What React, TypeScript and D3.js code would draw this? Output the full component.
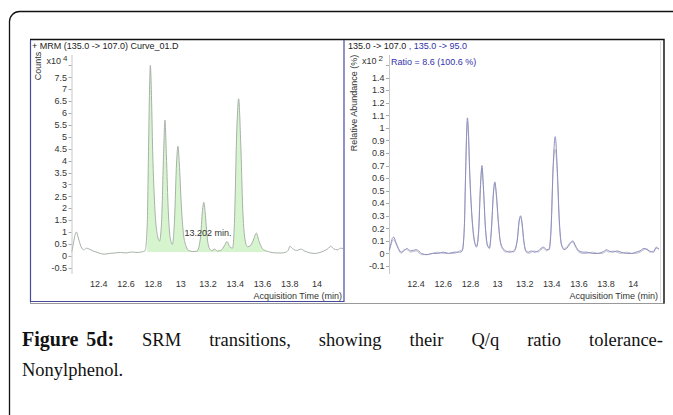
import React, { useEffect, useRef } from "react";
import * as d3 from "d3";

// retention time samples (min)
const times = [
  12.2, 12.21, 12.225, 12.235, 12.25, 12.27, 12.29, 12.31, 12.33, 12.36, 12.4, 12.44, 12.48,
  12.52, 12.56, 12.6, 12.64, 12.68, 12.72, 12.74, 12.755, 12.765, 12.772, 12.778, 12.785,
  12.795, 12.81, 12.83, 12.845, 12.86, 12.875, 12.885, 12.895, 12.91, 12.925, 12.94, 12.955,
  12.97, 12.98, 12.99, 13.005, 13.02, 13.04, 13.06, 13.09, 13.12, 13.145, 13.16, 13.17, 13.18,
  13.195, 13.21, 13.23, 13.25, 13.27, 13.3, 13.32, 13.34, 13.36, 13.38, 13.395, 13.41, 13.425,
  13.44, 13.455, 13.47, 13.49, 13.51, 13.53, 13.555, 13.575, 13.6, 13.63, 13.66, 13.7, 13.74,
  13.77, 13.79, 13.8, 13.82, 13.85, 13.88, 13.91, 13.95, 13.99, 14.02, 14.05, 14.08, 14.1,
  14.12, 14.15, 14.17, 14.19,
];

// MRM 135 -> 107 counts (x10^4)
const counts = [
  0.15, 0.4, 0.85, 1.0, 0.75, 0.38, 0.25, 0.32, 0.28, 0.2, 0.12, 0.07, 0.1,
  0.12, 0.14, 0.12, 0.16, 0.14, 0.17, 0.22, 1.3, 4.6, 7.0, 8.0, 7.0,
  4.4, 2.1, 0.85, 0.62, 1.4, 4.3, 5.7, 4.3, 1.8, 0.7, 0.48, 1.5,
  3.9, 4.6, 3.9, 2.1, 0.95, 0.4, 0.22, 0.18, 0.2, 0.75, 1.9, 2.25, 1.8,
  0.75, 0.32, 0.22, 0.28, 0.2, 0.25, 0.42, 0.6, 0.38, 0.32, 1.5, 5.0, 6.6,
  4.8, 2.0, 0.75, 0.38, 0.42, 0.62, 0.95, 0.6, 0.3, 0.2, 0.15, 0.12, 0.12,
  0.15, 0.25, 0.4, 0.3, 0.22, 0.28, 0.2, 0.12, 0.1, 0.14, 0.2, 0.3, 0.4,
  0.3, 0.25, 0.32, 0.3,
];

// relative abundance (x10^2), quantifier 135 -> 107
const quant = [
  0.02, 0.06, 0.12, 0.13, 0.09, 0.04, 0.01, 0.02, 0.04, 0.02, 0.03, 0.0, -0.01,
  0.0, 0.0, 0.01, 0.0, 0.01, 0.01, 0.02, 0.2, 0.65, 0.96, 1.08, 0.98,
  0.65, 0.32, 0.1, 0.05, 0.16, 0.55, 0.7, 0.55, 0.22, 0.07, 0.04, 0.19,
  0.49, 0.57, 0.49, 0.27, 0.1, 0.04, 0.02, 0.01, 0.02, 0.1, 0.26, 0.3, 0.25,
  0.09, 0.02, 0.01, 0.02, 0.01, 0.02, 0.04, 0.05, 0.03, 0.03, 0.2, 0.7, 0.93,
  0.68, 0.27, 0.08, 0.03, 0.04, 0.07, 0.1, 0.06, 0.02, 0.01, 0.01, 0.0, 0.0,
  0.01, 0.02, 0.03, 0.02, 0.01, 0.02, 0.01, 0.0, 0.0, 0.01, 0.02, 0.04, 0.03,
  0.02, 0.01, 0.05, 0.03,
];

// relative abundance (x10^2), qualifier 135 -> 95
const qual = [
  0.01, 0.05, 0.1, 0.11, 0.08, 0.03, 0.0, 0.03, 0.03, 0.01, 0.02, -0.01, -0.01,
  0.0, 0.01, 0.0, 0.0, 0.0, 0.02, 0.03, 0.21, 0.66, 0.93, 1.05, 0.95,
  0.62, 0.3, 0.09, 0.06, 0.18, 0.56, 0.68, 0.53, 0.21, 0.06, 0.05, 0.2,
  0.48, 0.56, 0.47, 0.25, 0.09, 0.03, 0.01, 0.02, 0.01, 0.11, 0.27, 0.29, 0.23,
  0.08, 0.01, 0.0, 0.01, 0.02, 0.01, 0.03, 0.04, 0.02, 0.04, 0.22, 0.68, 0.83,
  0.64, 0.25, 0.07, 0.04, 0.05, 0.08, 0.09, 0.05, 0.01, 0.0, 0.0, 0.01, 0.0,
  0.0, 0.01, 0.02, 0.01, 0.02, 0.01, 0.0, 0.01, 0.0, 0.0, 0.01, 0.03, 0.04,
  0.01, 0.02, 0.04, 0.04,
];

const countTicks = [-0.5, 0, 0.5, 1, 1.5, 2, 2.5, 3, 3.5, 4, 4.5, 5, 5.5, 6, 6.5, 7, 7.5];
const abundTicks = [-0.1, 0, 0.1, 0.2, 0.3, 0.4, 0.5, 0.6, 0.7, 0.8, 0.9, 1, 1.1, 1.2, 1.3, 1.4];
const timeTicks = [12.4, 12.6, 12.8, 13, 13.2, 13.4, 13.6, 13.8, 14];

const captionLine1 = ["SRM", "transitions,", "showing", "their", "Q/q", "ratio", "tolerance-"];
const captionLine2 = "Nonylphenol.";

const SANS = "'Liberation Sans', Arial, sans-serif";
const SERIF = "'Liberation Serif', 'Times New Roman', serif";
const FS = 9;

function App() {
  const ref = useRef<SVGSVGElement | null>(null);

  useEffect(() => {
    const svg = d3.select(ref.current);
    svg.selectAll("*").remove();

    // outer rounded frame
    svg.append("rect").attr("x", 9.5).attr("y", 11.5).attr("width", 720).attr("height", 500)
      .attr("rx", 10).attr("fill", "none").attr("stroke", "#111").attr("stroke-width", 1.3);

    // chart image box
    svg.append("rect").attr("x", 30.5).attr("y", 39.5).attr("width", 633.5).attr("height", 264)
      .attr("fill", "#fff").attr("stroke", "#999").attr("stroke-width", 1);
    svg.append("path").attr("d", "M30,39.5H664V303.5").attr("fill", "none").attr("stroke", "#111").attr("stroke-width", 1.3);
    svg.append("line").attr("x1", 660.5).attr("x2", 660.5).attr("y1", 40).attr("y2", 302)
      .attr("stroke", "#ddd");
    svg.append("path").attr("d", "M30.5,40V301.5H344V40").attr("fill", "none").attr("stroke", "#4a4a9c").attr("stroke-width", 1.2);

    const panel = (opts: {
      x0: number; x1: number; yDomain: [number, number]; ticks: number[]; topTick: number;
      id: string;
    }) => {
      const x = d3.scaleLinear().domain([12.2, 14.19]).range([opts.x0, opts.x1]);
      const y = d3.scaleLinear().domain(opts.yDomain).range([274, 55]);
      const g = svg.append("g");
      g.append("clipPath").attr("id", opts.id).append("rect")
        .attr("x", opts.x0).attr("y", 55).attr("width", opts.x1 - opts.x0).attr("height", 219);
      // y axis
      g.append("line").attr("x1", opts.x0 + 0.5).attr("x2", opts.x0 + 0.5).attr("y1", 55).attr("y2", 274)
        .attr("stroke", "#c8c8c8");
      const allTicks = opts.ticks.concat([opts.topTick]);
      g.selectAll("line.tk").data(allTicks).enter().append("line").attr("class", "tk")
        .attr("x1", opts.x0 - 3).attr("x2", opts.x0)
        .attr("y1", (d) => Math.round(y(d)) + 0.5).attr("y2", (d) => Math.round(y(d)) + 0.5)
        .attr("stroke", "#aaa");
      g.selectAll("text.yl").data(opts.ticks).enter().append("text").attr("class", "yl")
        .attr("x", opts.x0 - 4.5).attr("y", (d) => y(d) + 3.2)
        .attr("text-anchor", "end").attr("font-family", SANS).attr("font-size", FS)
        .attr("fill", "#333").text((d) => String(d));
      g.selectAll("text.xl").data(timeTicks).enter().append("text").attr("class", "xl")
        .attr("x", (d) => x(d)).attr("y", 286.5)
        .attr("text-anchor", "middle").attr("font-family", SANS).attr("font-size", FS)
        .attr("fill", "#333").text((d) => String(d));
      g.append("text").attr("x", opts.x1 - 1).attr("y", 298.5).attr("text-anchor", "end")
        .attr("font-family", SANS).attr("font-size", FS).attr("fill", "#333")
        .text("Acquisition Time (min)");
      return { x, y, g };
    };

    // left panel: counts
    const L = panel({ x0: 71.5, x1: 343, yDomain: [-0.765, 8.44], ticks: countTicks, topTick: 8, id: "clipL" });
    const pts = times.map((t, i) => ({ t, v: counts[i] }));
    const fillPts = pts.filter((p) => p.t >= 12.745 && p.t <= 13.63);
    const baseV = 0.16;
    L.g.append("path").datum(fillPts)
      .attr("d", d3.area<{ t: number; v: number }>().x((d) => L.x(d.t)).y0(L.y(baseV)).y1((d) => L.y(d.v))
        .curve(d3.curveMonotoneX))
      .attr("fill", "#d6f5cf").attr("clip-path", "url(#clipL)");
    L.g.append("path").datum(pts)
      .attr("d", d3.line<{ t: number; v: number }>().x((d) => L.x(d.t)).y((d) => L.y(d.v)).curve(d3.curveMonotoneX))
      .attr("fill", "none").attr("stroke", "#a8b0a8").attr("stroke-width", 1).attr("clip-path", "url(#clipL)");
    L.g.append("text").attr("x", L.x(13.2)).attr("y", 236).attr("text-anchor", "middle")
      .attr("font-family", SANS).attr("font-size", FS).attr("fill", "#333").text("13.202 min.");
    L.g.append("text").attr("x", 32).attr("y", 49).attr("font-family", SANS).attr("font-size", FS)
      .attr("fill", "#222").text("+ MRM (135.0 -> 107.0) Curve_01.D");
    const xl = L.g.append("text").attr("x", 46.5).attr("y", 64).attr("font-family", SANS)
      .attr("font-size", FS).attr("fill", "#333");
    xl.append("tspan").text("x10");
    xl.append("tspan").attr("dx", 2).attr("dy", -3).attr("font-size", 8).text("4");
    L.g.append("text").attr("transform", "translate(40.5,66) rotate(-90)").attr("text-anchor", "middle")
      .attr("font-family", SANS).attr("font-size", FS).attr("fill", "#333").text("Counts");

    // right panel: relative abundance
    const R = panel({ x0: 389, x1: 659, yDomain: [-0.164, 1.581], ticks: abundTicks, topTick: 1.5, id: "clipR" });
    const lineR = (vals: number[]) =>
      d3.line<number>().x((_, i) => R.x(times[i])).y((d) => R.y(d)).curve(d3.curveMonotoneX)(vals);
    R.g.append("path").attr("d", lineR(qual)).attr("fill", "none").attr("stroke", "#c0c0cc")
      .attr("stroke-width", 1).attr("clip-path", "url(#clipR)");
    R.g.append("path").attr("d", lineR(quant)).attr("fill", "none").attr("stroke", "#8f8fc0")
      .attr("stroke-width", 1).attr("clip-path", "url(#clipR)");
    const rt = R.g.append("text").attr("x", 348).attr("y", 49).attr("font-family", SANS)
      .attr("font-size", FS).attr("fill", "#222");
    rt.append("tspan").text("135.0 -> 107.0");
    rt.append("tspan").attr("fill", "#3333aa").text(" , 135.0 -> 95.0");
    const xr = R.g.append("text").attr("x", 362).attr("y", 64).attr("font-family", SANS)
      .attr("font-size", FS).attr("fill", "#333");
    xr.append("tspan").text("x10");
    xr.append("tspan").attr("dx", 2).attr("dy", -3).attr("font-size", 8).text("2");
    R.g.append("text").attr("x", 391).attr("y", 65).attr("font-family", SANS).attr("font-size", FS)
      .attr("fill", "#3333aa").text("Ratio = 8.6 (100.6 %)");
    R.g.append("text").attr("transform", "translate(356.5,103) rotate(-90)").attr("text-anchor", "middle")
      .attr("font-family", SANS).attr("font-size", FS).attr("fill", "#333").text("Relative Abundance (%)");

    // caption, justified first line
    const cap = svg.append("g").attr("font-family", SERIF).attr("fill", "#111");
    const words = [{ w: "Figure 5d:", bold: true }].concat(captionLine1.map((w) => ({ w, bold: false })));
    const nodes = words.map((d) =>
      cap.append("text").attr("y", 346).attr("font-weight", d.bold ? "bold" : "normal")
        .attr("font-size", d.bold ? 20 : 18.5).attr("word-spacing", d.bold ? 3 : 0).text(d.w)
    );
    const widths = nodes.map((n) => (n.node() as SVGTextElement).getComputedTextLength());
    const left = 22;
    const right = 663;
    const gap = (right - left - d3.sum(widths)) / (nodes.length - 1);
    let cx = left;
    nodes.forEach((n, i) => {
      n.attr("x", cx);
      cx += widths[i] + gap;
    });
    cap.append("text").attr("x", left).attr("y", 376).attr("font-size", 18.5).text(captionLine2);
  }, []);

  return (
    <svg ref={ref} width={673} height={415}
      style={{ position: "absolute", left: 0, top: 0, background: "#fff" }} />
  );
}

export default App;
